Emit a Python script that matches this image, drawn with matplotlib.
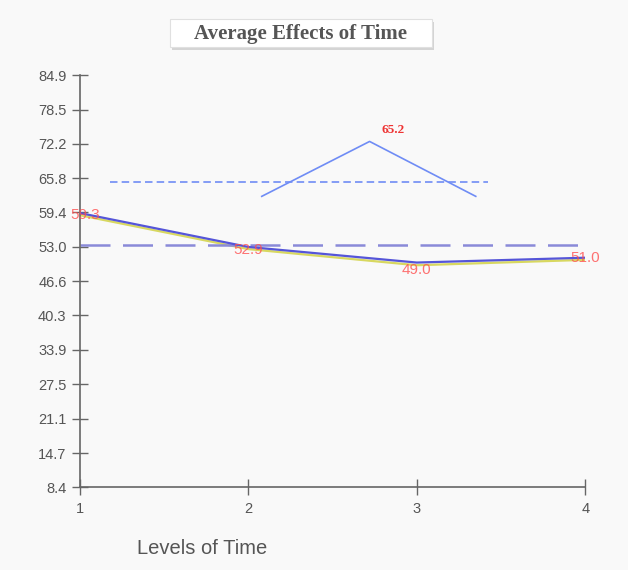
import matplotlib
matplotlib.use("Agg")
import matplotlib.pyplot as plt
from matplotlib.patches import Rectangle

# data
levels = [1, 2, 3, 4]
mean_line = [59.3, 53.0, 50.1, 51.0]
fit_line = [58.9, 52.6, 49.6, 50.6]
mean_labels = ["59.3", "52.9", "49.0", "51.0"]
grand_mean = 53.3
yticks = [8.4, 14.7, 21.1, 27.5, 33.9, 40.3, 46.6, 53.0, 59.4, 65.8, 72.2, 78.5, 84.9]

# small inset drawn over the plot
inset_x = [2.08, 2.72, 3.35]
inset_y = [62.4, 72.6, 62.4]
inset_ref = 65.0
inset_ref_x = [1.18, 3.42]
inset_label = "65.2"

W, H = 628, 570
fig = plt.figure(figsize=(W / 100, H / 100), dpi=100, facecolor="#f9f9f9")
ax = fig.add_axes([0.127, 0.1456, 0.805, 0.7224])
ax.set_facecolor("#f9f9f9")

ax.plot(levels, fit_line, color="#d8d860", lw=1.6, zorder=2)
ax.plot(levels, mean_line, color="#5555d8", lw=1.6, zorder=3)
ax.plot([1, 4.02], [grand_mean, grand_mean], color="#8a8ad8", lw=1.8,
        dashes=(12, 5), zorder=2, clip_on=False)

ax.plot(inset_ref_x, [inset_ref, inset_ref], color="#6f8cf5", lw=1.2, dashes=(4.5, 2.5))
ax.plot(inset_x, inset_y, color="#6f8cf5", lw=1.2)
ax.text(2.86, 74.8, inset_label, color="#ee3333", fontsize=9.5, fontweight="bold",
        family="Liberation Serif", ha="center", va="center")

offs = [(0.03, -0.3), (0.0, -0.6), (0.0, -1.3), (0.0, 0.0)]
for x, y, s, (dx, dy) in zip(levels, mean_line, mean_labels, offs):
    ax.text(x + dx, y + dy, s, color="#ff5050", alpha=0.8, fontsize=11,
            family="Liberation Sans", ha="center", va="center", zorder=4, clip_on=False)

ax.set_xlim(1, 4)
ax.set_ylim(8.4, 84.9)
ax.set_xticks(levels)
ax.set_yticks(yticks)
ax.set_yticklabels([f"{v:.1f}" for v in yticks])
for sp in ["top", "right"]:
    ax.spines[sp].set_visible(False)
for sp in ["left", "bottom"]:
    ax.spines[sp].set_color("#666666")
    ax.spines[sp].set_linewidth(1.2)
ax.tick_params(direction="inout", length=12, width=1, colors="#666666",
               labelsize=10.5, labelcolor="#555555")
ax.tick_params(axis="x", pad=5)
for lab in ax.get_xticklabels() + ax.get_yticklabels():
    lab.set_family("Liberation Sans")

fig.text(137 / W, 1 - 548 / H, "Levels of Time", color="#555555", fontsize=14.5,
         family="Liberation Sans", ha="left", va="center")

# title box with a soft shadow
fig.patches.append(Rectangle((172 / W, 1 - 50 / H), 262 / W, 28 / H, transform=fig.transFigure,
                             fc="#d4d4d4", ec="none", zorder=1))
fig.patches.append(Rectangle((170 / W, 1 - 47 / H), 262 / W, 28 / H, transform=fig.transFigure,
                             fc="white", ec="#e0e0e0", lw=0.8, zorder=2))
fig.text(300 / W, 1 - 34 / H, "Average Effects of Time", color="#555555", fontsize=15,
         fontweight="bold", family="Liberation Serif", ha="center", va="center", zorder=3)

fig.savefig("out.png", dpi=100, facecolor=fig.get_facecolor())
